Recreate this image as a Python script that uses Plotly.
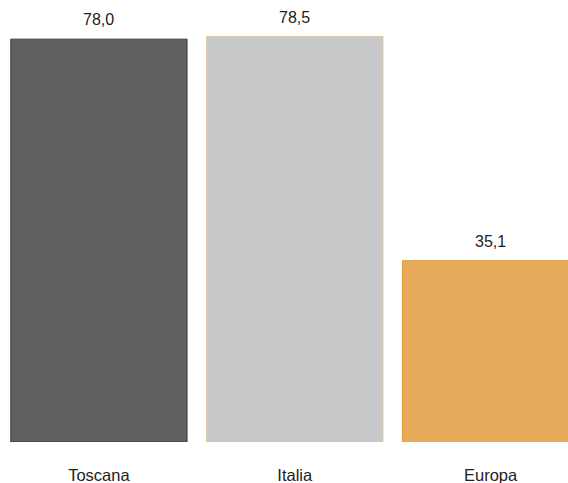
import plotly.graph_objects as go

areas = ['Toscana', 'Italia', 'Europa']
valori = [78.0, 78.5, 35.1]

colori = ['#606060', '#c8c9cb', '#e8ab5c']
bordi = ['#3c3c3c', '#d9c7a8', '#e39a3b']

etichette = [f'{v:.1f}'.replace('.', ',') for v in valori]

fig = go.Figure(go.Bar(
    x=areas,
    y=valori,
    marker=dict(color=colori, line=dict(color=bordi, width=1)),
    width=0.9,
    hoverinfo='skip',
))

for a, v, t in zip(areas, valori, etichette):
    fig.add_annotation(x=a, y=v, text=t, showarrow=False,
                       yanchor='bottom', yshift=9,
                       font=dict(family='Liberation Sans, Arial', size=16, color='#222222'))

fig.update_layout(
    width=568, height=483,
    margin=dict(l=0, r=0, t=3, b=41),
    plot_bgcolor='white', paper_bgcolor='white',
    showlegend=False,
    font=dict(family='Liberation Sans, Arial', size=16.5, color='#222222'),
    xaxis=dict(range=[-0.505, 2.395], showgrid=False, zeroline=False, showline=False,
               ticks='', ticklabelstandoff=21),
    yaxis=dict(range=[0, 85], visible=False),
)

# niente margine del body, la figura parte da (0,0)
fig.write_html('out.html', config={'displayModeBar': False},
               post_script="document.body.style.margin='0';")
